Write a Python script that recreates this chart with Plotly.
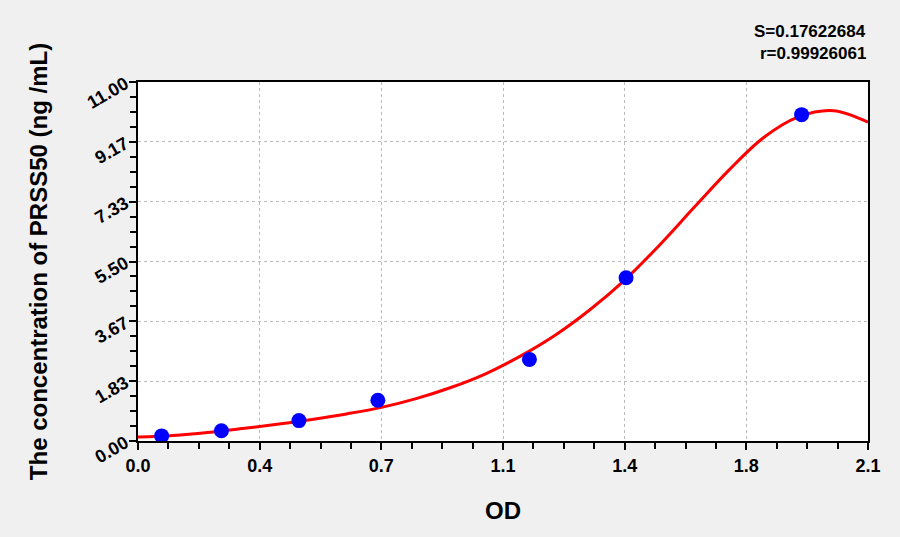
import plotly.graph_objects as go

# standard points (OD vs concentration)
od = [0.068, 0.240, 0.463, 0.690, 1.126, 1.404, 1.909]
conc = [0.156, 0.312, 0.625, 1.25, 2.5, 5.0, 10.0]

# fitted curve
curve_od = [0.0, 0.1, 0.2, 0.3, 0.4, 0.5, 0.6, 0.7, 0.8, 0.9, 1.0,
            1.1, 1.2, 1.3, 1.4, 1.5, 1.6, 1.7, 1.8, 1.9, 2.0, 2.1]
curve_conc = [0.12, 0.17, 0.26, 0.38, 0.51, 0.66, 0.83, 1.03, 1.30, 1.64, 2.06,
              2.60, 3.24, 4.02, 4.93, 6.00, 7.16, 8.30, 9.30, 9.93, 10.12, 9.77]

x_ticks = [0.0, 0.35, 0.7, 1.05, 1.4, 1.75, 2.1]
x_labels = ["0.0", "0.4", "0.7", "1.1", "1.4", "1.8", "2.1"]
y_ticks = [0.0, 11 / 6, 22 / 6, 5.5, 44 / 6, 55 / 6, 11.0]
y_labels = ["0.00", "1.83", "3.67", "5.50", "7.33", "9.17", "11.00"]

FONT = "Liberation Sans, Arial, sans-serif"

fig = go.Figure()

fig.add_trace(go.Scatter(
    x=curve_od, y=curve_conc, mode="lines",
    line=dict(color="#ff0000", width=3, shape="spline", smoothing=1),
    hoverinfo="skip", showlegend=False
))

fig.add_trace(go.Scatter(
    x=od, y=conc, mode="markers",
    marker=dict(color="#0000ff", size=15),
    showlegend=False
))

axis_common = dict(
    showline=True, linecolor="black", linewidth=2, mirror=True,
    ticks="outside", ticklen=7, tickwidth=1.5, tickcolor="black",
    showgrid=True, gridcolor="#bbbbbb", griddash="dot", gridwidth=1,
    zeroline=False,
)

fig.update_xaxes(
    range=[0, 2.1], tickvals=x_ticks, ticktext=x_labels,
    tickfont=dict(family=FONT, size=18, color="black", weight="bold"),
    minor=dict(dtick=0.0875, tick0=0, ticks="outside", ticklen=6, tickcolor="black", showgrid=False),
    title=dict(text="OD", font=dict(family=FONT, size=24, color="black", weight="bold"), standoff=28),
    **axis_common
)

fig.update_yaxes(
    range=[0, 11], tickvals=y_ticks, ticktext=y_labels, tickangle=-30,
    tickfont=dict(family=FONT, size=18, color="black", weight="bold"),
    minor=dict(dtick=11 / 24, tick0=0, ticks="outside", ticklen=6, tickcolor="black", showgrid=False),
    title=dict(text="The concentration of PRSS50 (ng /mL)",
               font=dict(family=FONT, size=24, color="black", weight="bold"), standoff=29),
    **axis_common
)

fig.add_annotation(
    xref="paper", yref="paper", x=1.0, y=1.0, yshift=51,
    text="<b>S=0.17622684</b>", showarrow=False, xanchor="right", yanchor="middle",
    font=dict(family=FONT, size=17, color="black")
)
fig.add_annotation(
    xref="paper", yref="paper", x=1.0, y=1.0, yshift=29,
    text="<b>r=0.99926061</b>", showarrow=False, xanchor="right", yanchor="middle",
    font=dict(family=FONT, size=17, color="black")
)

fig.update_layout(
    width=900, height=537,
    margin=dict(l=138, r=32, t=82, b=96, autoexpand=False),
    paper_bgcolor="#f0f0f0", plot_bgcolor="white",
)

fig.write_html("out.html", config={"displayModeBar": False},
               post_script="document.body.style.margin='0';")
